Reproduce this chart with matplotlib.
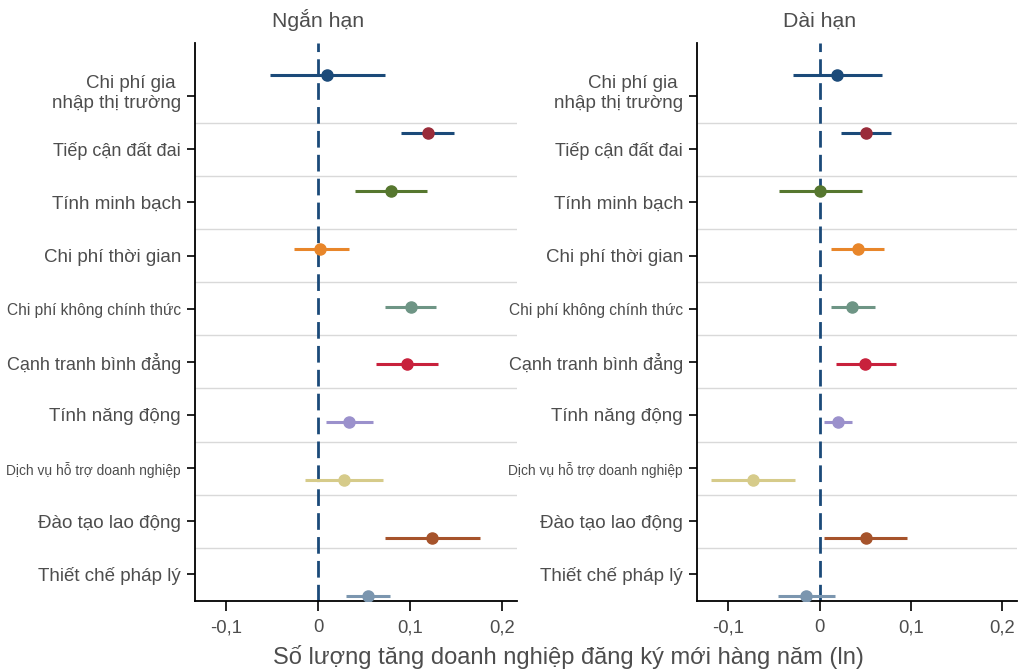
import numpy as np
import matplotlib
matplotlib.use("Agg")
import matplotlib.pyplot as plt
import matplotlib.transforms as mtransforms

# Categories (top to bottom)
categories = ["Chi phí gia \nnhập thị trường", "Tiếp cận đất đai", "Tính minh bạch",
              "Chi phí thời gian", "Chi phí không chính thức", "Cạnh tranh bình đẳng",
              "Tính năng động", "Dịch vụ hỗ trợ doanh nghiệp", "Đào tạo lao động",
              "Thiết chế pháp lý"]

# Short-run estimates and confidence intervals
short_coef = [0.010, 0.119, 0.079, 0.002, 0.101, 0.096, 0.033, 0.028, 0.124, 0.054]
short_low = [-0.053, 0.090, 0.040, -0.026, 0.073, 0.063, 0.008, -0.014, 0.072, 0.030]
short_high = [0.072, 0.148, 0.118, 0.033, 0.128, 0.130, 0.059, 0.070, 0.176, 0.078]

# Long-run estimates and confidence intervals
long_coef = [0.019, 0.051, 0.001, 0.042, 0.036, 0.050, 0.020, -0.073, 0.051, -0.015]
long_low = [-0.029, 0.024, -0.044, 0.013, 0.013, 0.018, 0.005, -0.119, 0.005, -0.045]
long_high = [0.068, 0.078, 0.047, 0.070, 0.061, 0.084, 0.036, -0.027, 0.096, 0.017]

marker_colors = ["#1b4a79", "#9a2c3a", "#56772f", "#e8862a", "#6e9585",
                 "#c8213c", "#9b91cc", "#d6cb8a", "#a6532b", "#7b96af"]
bar_colors = ["#1b4a79", "#1b4a79", "#56772f", "#e8862a", "#6e9585",
              "#c8213c", "#9b91cc", "#d6cb8a", "#a6532b", "#7b96af"]

xticks = [-0.1, 0, 0.1, 0.2]
xtick_labels = ["-0,1", "0", "0,1", "0,2"]

text_color = "#4d4d4d"
plt.rcParams['font.family'] = ['Liberation Sans', 'DejaVu Sans']

fig = plt.figure(figsize=(10.28, 6.72), dpi=100)

panels = [
    ("Ngắn hạn", short_coef, short_low, short_high, [195 / 1028, 0.1057, 322 / 1028, 0.8304]),
    ("Dài hạn", long_coef, long_low, long_high, [697 / 1028, 0.1057, 320 / 1028, 0.8304]),
]

n = len(categories)
for title, coef, low, high, rect in panels:
    ax = fig.add_axes(rect)
    ax.set_xlim(-0.134, 0.216)
    ax.set_ylim(n + 0.5, 0)

    ax.set_yticks(np.arange(1, n + 1))
    ax.set_yticklabels(categories, fontsize=13.5, color=text_color)
    ax.set_yticks(np.arange(1.5, n), minor=True)
    ax.grid(which="minor", axis="y", color="#d9d9d9", linewidth=1.0)
    ax.tick_params(axis="y", which="minor", length=0)
    ax.tick_params(axis="y", which="major", length=6, width=1.2, pad=4)

    ax.set_xticks(xticks)
    ax.set_xticklabels(xtick_labels, fontsize=13.3, color=text_color)
    ax.tick_params(axis="x", length=7, width=1.2, pad=6)

    # condensed-looking long labels, first label nudged up
    labels = ax.get_yticklabels()
    labels[1].set_fontsize(13)
    labels[5].set_fontsize(13)
    labels[4].set_fontsize(11.2)
    labels[7].set_fontsize(9.9)
    labels[0].set_linespacing(1.25)
    labels[0].set_transform(labels[0].get_transform() +
                            mtransforms.ScaledTranslation(0, 0.06, fig.dpi_scale_trans))

    for side in ["top", "right"]:
        ax.spines[side].set_visible(False)
    for side in ["left", "bottom"]:
        ax.spines[side].set_linewidth(1.3)

    ax.axvline(0, color="#1b4a79", linewidth=2, dashes=(6, 2.6), zorder=2)

    # coefficients drawn on their own row scale
    ax2 = ax.twinx()
    ax2.set_ylim(10.086, 0.447)
    ax2.axis("off")
    rows = np.arange(1, n + 1)
    for i in range(n):
        ax2.plot([low[i], high[i]], [rows[i], rows[i]], color=bar_colors[i],
                 linewidth=2.2, solid_capstyle="butt", zorder=3)
        ax2.plot(coef[i], rows[i], "o", color=marker_colors[i], markersize=8, zorder=4)

    trans = mtransforms.blended_transform_factory(ax.transData, fig.transFigure)
    fig.text(0, 0.9595, title, transform=trans, ha="center", va="baseline",
             fontsize=15.3, color=text_color)

fig.text(568 / 1028, 0.022, "Số lượng tăng doanh nghiệp đăng ký mới hàng năm (ln)",
         ha="center", va="center", fontsize=17, color=text_color)

fig.savefig("out.png", dpi=100)
